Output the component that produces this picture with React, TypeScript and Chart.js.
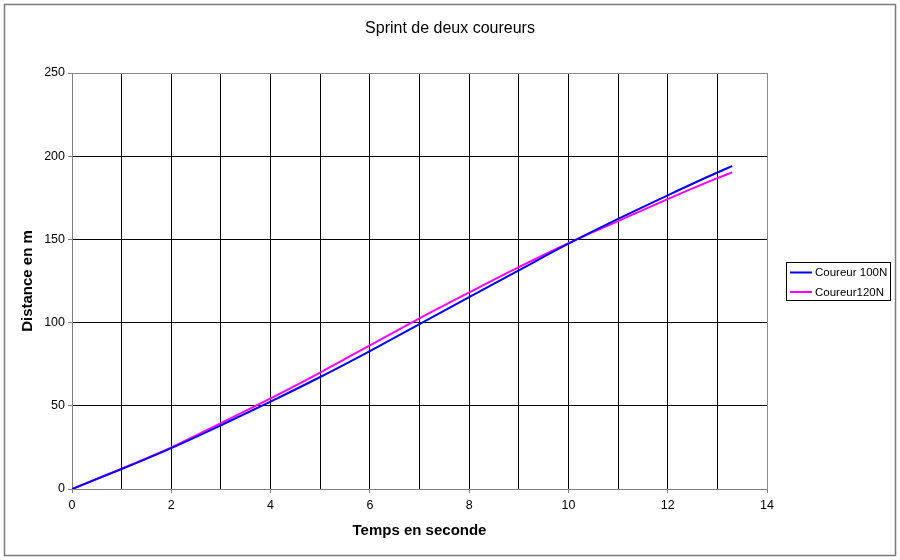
import React, { useEffect, useRef } from 'react';
import { Chart, registerables } from 'chart.js';

Chart.register(...registerables);

// ---- data ----
const timeSeconds = [0, 1, 2, 3, 4, 5, 6, 7, 8, 9, 10, 11, 12, 13, 13.3];
const coureur100N = [0, 12, 24.6, 38.3, 52.5, 67.3, 82.9, 99.1, 115.3, 131.4, 147.4, 162.3, 176.5, 190.2, 194];
const coureur120N = [0, 12.2, 25, 39.6, 54.5, 70, 86.3, 102.6, 118.1, 133.3, 147.7, 161, 174.2, 186.8, 190.3];
const seriesNames = ['Coureur 100N', 'Coureur120N'];
const seriesColors = ['#0000ff', '#ff00ff'];
const chartTitle = 'Sprint de deux coureurs';
const xTitle = 'Temps en seconde';
const yTitle = 'Distance en m';
const xRange = [0, 14];
const yRange = [0, 250];

const FONT = "'Liberation Sans', Arial, sans-serif";

const framePlugin = {
  id: 'framePlugin',
  beforeDraw(chart: any) {
    const ctx = chart.ctx;
    ctx.save();
    ctx.fillStyle = '#ffffff';
    ctx.fillRect(0, 0, chart.width, chart.height);
    ctx.strokeStyle = '#7a7a7a';
    ctx.lineWidth = 1.5;
    ctx.strokeRect(4.5, 4.5, 891, 551);
    ctx.fillStyle = '#000000';
    ctx.font = `16px ${FONT}`;
    ctx.textAlign = 'center';
    ctx.textBaseline = 'middle';
    ctx.fillText(chartTitle, 450, 29);
    ctx.restore();
  },
  afterDraw(chart: any) {
    const ctx = chart.ctx;
    ctx.save();
    ctx.strokeStyle = '#000000';
    ctx.lineWidth = 1;
    ctx.strokeRect(786.5, 262.5, 104, 38);
    const ys = [272.5, 292];
    chart.data.datasets.forEach((ds: any, i: number) => {
      ctx.strokeStyle = ds.borderColor;
      ctx.lineWidth = 2;
      ctx.beginPath();
      ctx.moveTo(790, ys[i]);
      ctx.lineTo(812, ys[i]);
      ctx.stroke();
      ctx.fillStyle = '#000000';
      ctx.font = `11.5px ${FONT}`;
      ctx.textAlign = 'left';
      ctx.textBaseline = 'middle';
      ctx.fillText(ds.label, 815, ys[i] + 0.5);
    });
    ctx.restore();
  },
};

export default function App() {
  const canvasRef = useRef<HTMLCanvasElement | null>(null);

  useEffect(() => {
    if (!canvasRef.current) return;
    const mk = (vals: number[]) => timeSeconds.map((t, i) => ({ x: t, y: vals[i] }));
    const chart = new Chart(canvasRef.current, {
      type: 'line',
      data: {
        datasets: [
          {
            label: seriesNames[0],
            data: mk(coureur100N),
            borderColor: seriesColors[0],
            backgroundColor: seriesColors[0],
            borderWidth: 2,
            pointRadius: 0,
            cubicInterpolationMode: 'monotone',
            fill: false,
          },
          {
            label: seriesNames[1],
            data: mk(coureur120N),
            borderColor: seriesColors[1],
            backgroundColor: seriesColors[1],
            borderWidth: 2,
            pointRadius: 0,
            cubicInterpolationMode: 'monotone',
            fill: false,
          },
        ],
      },
      options: {
        responsive: false,
        animation: false,
        devicePixelRatio: 1,
        layout: { padding: { left: 0, top: 73, right: 133, bottom: 0 } },
        plugins: {
          legend: { display: false },
          title: { display: false },
          tooltip: { enabled: false },
        },
        scales: {
          x: {
            type: 'linear',
            min: xRange[0],
            max: xRange[1],
            afterFit: (s: any) => { s.height = 71; },
            ticks: {
              stepSize: 1,
              autoSkip: false,
              maxRotation: 0,
              padding: 5,
              color: '#000000',
              font: { family: FONT, size: 12.5 },
              callback: (v: any) => (Number(v) % 2 === 0 ? String(v) : ''),
            },
            grid: {
              color: (c: any) => (c.tick && c.tick.value === xRange[1] ? '#8a8a8a' : '#000000'),
              lineWidth: 1,
              tickLength: 4,
              tickColor: (c: any) => (c.tick && c.tick.value % 2 === 0 ? '#808080' : 'rgba(0,0,0,0)'),
            },
            border: { display: true, color: '#808080', width: 1 },
            title: {
              display: true,
              text: xTitle,
              color: '#000000',
              font: { family: FONT, size: 15, weight: 'bold' },
              padding: { top: 0, bottom: 20 },
            },
          },
          y: {
            type: 'linear',
            min: yRange[0],
            max: yRange[1],
            afterFit: (s: any) => { s.width = 72; },
            ticks: {
              stepSize: 50,
              padding: 3,
              color: '#000000',
              font: { family: FONT, size: 12.5 },
            },
            grid: {
              color: (c: any) => (c.tick && c.tick.value === yRange[1] ? '#8a8a8a' : '#000000'),
              lineWidth: 1,
              tickLength: 4,
              tickColor: '#808080',
            },
            border: { display: true, color: '#808080', width: 1 },
            title: {
              display: true,
              text: yTitle,
              color: '#000000',
              font: { family: FONT, size: 15, weight: 'bold' },
              padding: { top: 19, bottom: 0 },
            },
          },
        },
      },
      plugins: [framePlugin],
    } as any);
    return () => chart.destroy();
  }, []);

  return (
    <div style={{ position: 'absolute', left: 0, top: 0, width: 900, height: 560 }}>
      <canvas ref={canvasRef} width={900} height={560} style={{ display: 'block' }} />
    </div>
  );
}
